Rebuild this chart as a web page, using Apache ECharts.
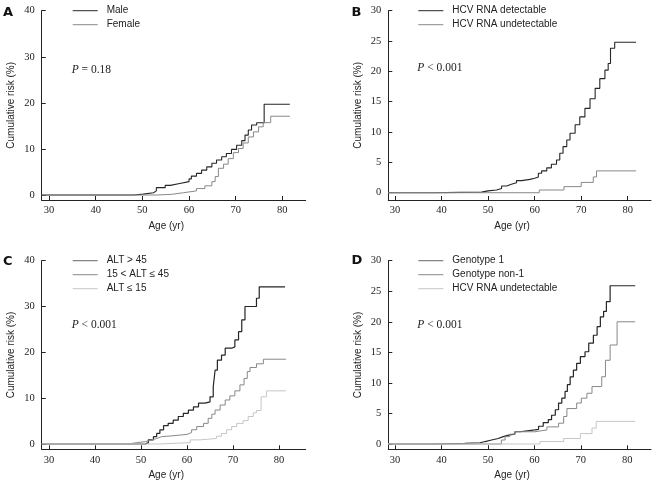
<!DOCTYPE html>
<html><head><meta charset="utf-8">
<script src="https://cdn.jsdelivr.net/npm/echarts@6/dist/echarts.min.js"></script>
<style>html,body{margin:0;padding:0;background:#fff}#c{width:659px;height:488px}</style>
</head><body><div id="c"></div>
<script>
// ---- tick labels ----
const ageTicks = [30, 40, 50, 60, 70, 80];
const riskTicks40 = [0, 10, 20, 30, 40];
const riskTicks30 = [0, 5, 10, 15, 20, 25, 30];

// ---- Panel A: sex ----
const maleAge  = [28.4, 48.1, 50.2, 52.4, 53.0, 54.9, 56.0, 58.0, 60.0, 60.5, 61.6, 62.7, 63.8, 64.9, 65.9, 67.0, 68.0, 69.1, 70.2, 71.3, 72.0, 72.7, 73.4, 74.5, 76.1, 81.6];
const maleRisk = [0, 0.2, 0.5, 0.9, 1.6, 2.1, 2.5, 2.9, 3.5, 4.1, 4.7, 5.4, 6.1, 6.9, 7.6, 8.3, 9.0, 9.9, 10.8, 11.8, 13.0, 14.1, 15.2, 15.7, 19.7, 19.7];
const femaleAge  = [28.4, 53.0, 56.3, 58.8, 61.6, 63.4, 64.9, 65.6, 66.3, 67.4, 68.4, 69.5, 70.6, 71.6, 72.7, 73.8, 74.9, 75.9, 77.5, 81.6];
const femaleRisk = [0, 0.15, 0.5, 0.9, 1.4, 2.0, 2.9, 4.0, 5.8, 6.7, 7.9, 9.2, 10.1, 11.3, 12.6, 13.7, 14.8, 15.7, 17.1, 17.1];

// ---- Panel B: HCV RNA ----
const detAge  = [28.5, 38.0, 44.0, 48.6, 50.0, 51.8, 52.9, 54.0, 55.0, 56.1, 57.2, 59.0, 60.0, 60.8, 61.5, 62.6, 63.6, 64.7, 65.4, 66.1, 66.9, 67.6, 68.7, 69.7, 70.8, 71.9, 73.0, 74.0, 75.1, 75.8, 76.3, 77.2, 81.8];
const detRisk = [0, 0.05, 0.1, 0.3, 0.45, 0.7, 1.1, 1.4, 1.65, 2.0, 2.2, 2.4, 2.6, 3.2, 3.6, 4.1, 4.7, 5.4, 6.5, 7.6, 8.7, 9.8, 11.2, 12.5, 13.9, 15.5, 17.2, 18.8, 20.2, 21.3, 23.8, 24.8, 24.8];
const undetAge  = [28.5, 61.0, 66.3, 70.0, 72.6, 73.3, 81.8];
const undetRisk = [0, 0.45, 1.0, 1.7, 2.6, 3.6, 3.6];

// ---- Panel C: ALT ----
const altHighAge  = [28.4, 50.9, 51.6, 52.7, 53.4, 54.1, 54.9, 55.9, 57.0, 58.1, 59.2, 60.3, 61.4, 62.5, 63.9, 65.0, 65.7, 66.1, 66.6, 67.5, 68.3, 69.7, 70.4, 71.2, 71.9, 72.6, 75.1, 75.7, 81.3];
const altHighRisk = [0, 0.3, 0.9, 1.6, 2.3, 3.1, 4.0, 4.5, 5.2, 6.0, 6.7, 7.4, 8.1, 8.9, 9.2, 10.3, 12.5, 16.1, 18.3, 19.4, 20.9, 21.2, 22.7, 24.5, 27.1, 30.0, 31.8, 34.3, 34.3];
const altMidAge  = [28.4, 47.2, 49.1, 50.9, 52.3, 53.4, 54.5, 57.0, 60.0, 61.0, 62.1, 63.6, 64.6, 65.4, 66.1, 67.2, 68.3, 69.3, 70.4, 71.5, 72.4, 73.1, 73.7, 75.1, 76.6, 81.5];
const altMidRisk = [0, 0.3, 0.5, 0.9, 1.2, 1.6, 1.8, 2.1, 2.5, 3.1, 3.8, 4.5, 5.6, 6.5, 7.4, 8.5, 9.6, 10.5, 11.6, 12.9, 14.3, 15.8, 16.7, 17.5, 18.5, 18.5];
const altLowAge  = [28.4, 54.1, 60.7, 62.8, 66.4, 67.5, 68.6, 69.7, 70.8, 72.2, 73.3, 74.4, 75.1, 76.1, 77.3, 81.5];
const altLowRisk = [0, 0.3, 0.9, 1.2, 1.7, 2.3, 3.1, 3.8, 4.5, 5.1, 6.0, 6.8, 7.3, 10.3, 11.6, 11.6];

// ---- Panel D: genotype ----
const g1Age  = [28.5, 38.0, 45.0, 48.3, 49.4, 50.8, 52.2, 53.3, 54.7, 55.8, 56.9, 60.1, 60.9, 61.9, 63.0, 63.7, 64.5, 65.2, 65.9, 66.6, 67.1, 67.7, 68.4, 69.1, 69.9, 70.9, 71.7, 72.7, 73.5, 74.2, 74.9, 75.5, 76.3, 81.7];
const g1Risk = [0, 0.1, 0.2, 0.4, 0.65, 0.9, 1.2, 1.5, 1.6, 2.0, 2.3, 2.4, 2.9, 3.5, 4.0, 4.7, 5.6, 6.7, 7.5, 8.6, 9.7, 11.0, 12.1, 13.2, 14.3, 15.1, 16.5, 17.8, 19.2, 20.8, 21.7, 23.3, 25.9, 25.9];
const gnAge  = [28.5, 52.9, 53.7, 54.7, 55.8, 60.1, 62.7, 65.2, 66.3, 67.0, 69.1, 70.1, 71.3, 72.4, 74.5, 75.3, 76.3, 77.8, 81.7];
const gnRisk = [0, 0.65, 1.2, 1.6, 2.0, 2.3, 2.8, 3.4, 4.5, 5.8, 6.7, 7.5, 8.3, 9.4, 11.0, 13.7, 16.2, 20.0, 20.0];
const gUndAge  = [28.5, 61.2, 66.3, 69.9, 72.4, 73.3, 81.7];
const gUndRisk = [0, 0.4, 0.9, 1.7, 2.6, 3.7, 3.7];

const BLACK = '#262626', MID = '#888888', LIGHT = '#c6c6c6';
const SANS = 'Liberation Sans', SERIF = 'Liberation Serif';

function pts(a, r) { return a.map((x, i) => [x, r[i]]); }

const grids = [
  { left: 41.7, top: 10.7, width: 264, height: 189.3 },
  { left: 388.3, top: 10.7, width: 262.7, height: 189.3 },
  { left: 41.7, top: 260.7, width: 264, height: 188.6 },
  { left: 388.3, top: 260.7, width: 262.7, height: 188.6 }
];
const xr = [[28.44, 85.0], [28.56, 85.0], [28.41, 85.8], [28.56, 85.1]];
const yr = [[-1.08, 40], [-1.2, 30], [-1.16, 40], [-0.87, 30]];
const yt = [riskTicks40, riskTicks30, riskTicks40, riskTicks30];

const axisLine = { show: true, onZero: false, lineStyle: { color: '#222', width: 1 } };
const xAxes = grids.map((g, i) => ({
  type: 'value', gridIndex: i, min: xr[i][0], max: xr[i][1],
  axisLine: axisLine,
  axisTick: { show: true, inside: true, length: 4, customValues: ageTicks, lineStyle: { color: '#222' } },
  axisLabel: { customValues: ageTicks, fontFamily: SERIF, fontSize: 10.5, color: '#222', margin: 5 },
  splitLine: { show: false },
  name: 'Age (yr)', nameLocation: 'middle', nameGap: 21,
  nameTextStyle: { fontFamily: SANS, fontSize: 10, color: '#222', padding: [0, 15, 0, 0] }
}));
const yAxes = grids.map((g, i) => ({
  type: 'value', gridIndex: i, min: yr[i][0], max: yr[i][1],
  axisLine: axisLine,
  axisTick: { show: true, inside: true, length: 4, customValues: yt[i], lineStyle: { color: '#222' } },
  axisLabel: { customValues: yt[i], fontFamily: SERIF, fontSize: 10.5, color: '#222', margin: 7 },
  splitLine: { show: false },
  name: 'Cumulative risk (%)', nameLocation: 'middle', nameGap: 25,
  nameTextStyle: { fontFamily: SANS, fontSize: 10, color: '#222' }
}));

function ser(name, idx, a, r, color, w) {
  return {
    name: name, type: 'line', step: 'end', xAxisIndex: idx, yAxisIndex: idx,
    data: pts(a, r), symbol: 'none', color: color,
    lineStyle: { color: color, width: w || 1 }, silent: true
  };
}
const series = [
  ser('Male', 0, maleAge, maleRisk, BLACK, 1.1),
  ser('Female', 0, femaleAge, femaleRisk, MID),
  ser('HCV RNA detectable', 1, detAge, detRisk, BLACK, 1.1),
  ser('HCV RNA undetectable', 1, undetAge, undetRisk, MID),
  ser('ALT > 45', 2, altHighAge, altHighRisk, BLACK, 1.2),
  ser('15 < ALT ≤ 45', 2, altMidAge, altMidRisk, MID),
  ser('ALT ≤ 15', 2, altLowAge, altLowRisk, LIGHT),
  ser('Genotype 1', 3, g1Age, g1Risk, BLACK, 1.2),
  ser('Genotype non-1', 3, gnAge, gnRisk, MID),
  ser('HCV RNA undetectable', 3, gUndAge, gUndRisk, LIGHT)
];

function leg(left, top, items) {
  return {
    orient: 'vertical', left: left, top: top, padding: 0, itemGap: 2,
    itemWidth: 25, itemHeight: 1, icon: 'rect', selectedMode: false,
    textStyle: { fontFamily: SANS, fontSize: 10, color: '#222', lineHeight: 12, padding: [0, 0, 0, 4] },
    data: items.map(it => ({ name: it[0], itemStyle: { color: it[1] } }))
  };
}
const legends = [
  leg(72.7, 4.7, [['Male', BLACK], ['Female', MID]]),
  leg(418.3, 4.7, [['HCV RNA detectable', BLACK], ['HCV RNA undetectable', MID]]),
  leg(72.7, 254.7, [['ALT > 45', '#666'], ['15 < ALT ≤ 45', MID], ['ALT ≤ 15', LIGHT]]),
  leg(418.3, 254.7, [['Genotype 1', '#666'], ['Genotype non-1', MID], ['HCV RNA undetectable', LIGHT]])
];

const letterStyle = { fontFamily: 'DejaVu Sans', fontWeight: 'bold', fontSize: 13, color: '#111', lineHeight: 14 };
const pRich = { p: { fontFamily: SERIF, fontStyle: 'italic', fontSize: 11.5, color: '#222' } };
const pStyle = { fontFamily: SERIF, fontSize: 11.5, color: '#222', fontWeight: 'normal', lineHeight: 14, rich: pRich };
const titles = [
  { text: 'A', left: 3, top: 5.7, padding: 0, textStyle: letterStyle },
  { text: 'B', left: 351.5, top: 6, padding: 0, textStyle: letterStyle },
  { text: 'C', left: 3, top: 254.7, padding: 0, textStyle: letterStyle },
  { text: 'D', left: 351.5, top: 253.7, padding: 0, textStyle: letterStyle },
  { text: '{p|P} = 0.18', left: 71.7, top: 63, padding: 0, textStyle: pStyle },
  { text: '{p|P} < 0.001', left: 417.3, top: 61.3, padding: 0, textStyle: pStyle },
  { text: '{p|P} < 0.001', left: 71.7, top: 318, padding: 0, textStyle: pStyle },
  { text: '{p|P} < 0.001', left: 417.3, top: 318, padding: 0, textStyle: pStyle }
];

const chart = echarts.init(document.getElementById('c'), null, { renderer: 'canvas' });
chart.setOption({
  animation: false,
  backgroundColor: '#fff',
  title: titles,
  legend: legends,
  grid: grids,
  xAxis: xAxes,
  yAxis: yAxes,
  series: series
});
</script></body></html>
